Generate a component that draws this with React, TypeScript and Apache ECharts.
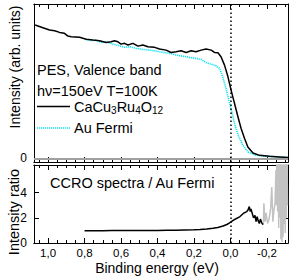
import { useEffect, useRef } from 'react';
import * as echarts from 'echarts';

const FONT = '"Liberation Sans", Arial, Helvetica, sans-serif';

const X_MIN = -0.315;
const X_MAX = 1.077;
const majorTicks = [1.0, 0.8, 0.6, 0.4, 0.2, 0.0, -0.2];
const minorTicks = [1.05, 0.95, 0.9, 0.85, 0.75, 0.7, 0.65, 0.55, 0.5, 0.45, 0.35, 0.3, 0.25, 0.15, 0.1, 0.05, -0.05, -0.1, -0.15, -0.25, -0.3];
const ratioTicks = [0, 2, 4];

// CaCu3Ru4O12 valence band spectrum
const ccroE = [1.071, 1.028, 0.992, 0.964, 0.937, 0.91, 0.891, 0.873, 0.827, 0.791, 0.754, 0.718, 0.682, 0.654, 0.636, 0.617, 0.6, 0.581, 0.562, 0.535, 0.507, 0.48, 0.453, 0.416, 0.389, 0.353, 0.326, 0.298, 0.271, 0.243, 0.216, 0.189, 0.161, 0.134, 0.106, 0.088, 0.069, 0.052, 0.033, 0.014, -0.003, -0.022, -0.041, -0.058, -0.077, -0.095, -0.123, -0.159, -0.214, -0.268, -0.315];
const ccroI = [0.864, 0.846, 0.831, 0.827, 0.816, 0.81, 0.792, 0.788, 0.784, 0.771, 0.766, 0.762, 0.751, 0.755, 0.762, 0.755, 0.74, 0.745, 0.734, 0.745, 0.727, 0.734, 0.723, 0.719, 0.708, 0.701, 0.686, 0.69, 0.697, 0.686, 0.697, 0.69, 0.701, 0.708, 0.701, 0.686, 0.684, 0.658, 0.604, 0.528, 0.442, 0.355, 0.268, 0.193, 0.128, 0.073, 0.034, 0.019, 0.013, 0.009, 0.005];

// Au Fermi edge
const auE = [0.795, 0.764, 0.737, 0.709, 0.682, 0.644, 0.608, 0.581, 0.553, 0.517, 0.48, 0.444, 0.408, 0.37, 0.334, 0.298, 0.261, 0.225, 0.189, 0.161, 0.134, 0.106, 0.079, 0.06, 0.046, 0.027, 0.009, -0.009, -0.027, -0.046, -0.068, -0.095, -0.14, -0.195, -0.25, -0.315];
const auI = [0.771, 0.762, 0.766, 0.751, 0.755, 0.74, 0.729, 0.719, 0.723, 0.712, 0.706, 0.701, 0.695, 0.686, 0.68, 0.669, 0.662, 0.654, 0.647, 0.641, 0.621, 0.61, 0.599, 0.582, 0.539, 0.463, 0.377, 0.29, 0.203, 0.138, 0.084, 0.041, 0.019, 0.013, 0.009, 0.005];

// Ratio CCRO / Au
const ratioE = [0.8, 0.75, 0.7, 0.65, 0.6, 0.55, 0.5, 0.45, 0.4, 0.35, 0.3, 0.25, 0.2, 0.167, 0.13, 0.096, 0.07, 0.041, 0.02, 0.003, -0.02, -0.052, -0.07, -0.089, -0.095, -0.103, -0.108, -0.112, -0.12, -0.126, -0.134, -0.14, -0.146, -0.151, -0.158, -0.164, -0.171, -0.176, -0.18];
const ratioV = [0.97, 0.98, 0.98, 0.99, 0.99, 1.0, 1.0, 1.0, 1.0, 1.01, 1.02, 1.04, 1.06, 1.08, 1.12, 1.17, 1.24, 1.35, 1.47, 1.62, 1.85, 2.1, 2.35, 2.5, 2.6, 2.9, 2.5, 2.7, 2.3, 2.0, 2.2, 1.7, 2.1, 1.8, 1.55, 1.9, 1.6, 1.5, 1.5];

// Noisy ratio beyond the Fermi edge (grey)
const noiseE = [-0.18, -0.183, -0.186, -0.189, -0.195, -0.203, -0.212, -0.22, -0.226, -0.232, -0.238, -0.244, -0.249, -0.252, -0.255, -0.258, -0.261, -0.264, -0.267, -0.27, -0.273, -0.276, -0.279, -0.282, -0.285, -0.288, -0.291, -0.294, -0.297, -0.3, -0.303, -0.306, -0.309, -0.312];
const noiseV = [1.5, 3.15, 2.4, 1.7, 2.4, 1.55, 1.95, 2.8, 4.45, 1.7, 2.6, 3.15, 5.8, 3.0, 9, 2.5, 9, 1.2, 9, 2.0, 9, 0.3, 9, 0.1, 9, 0.5, 9, 1.5, 9, 0.8, 9, 2.0, 9, 3.0];

const zip = (a: number[], b: number[]) => a.map((v, i) => [v, b[i]]);
const fmt = (v: number) => v.toFixed(1).replace('.', ',');

const CYAN = '#12e2f2';

function xAx(gridIndex: number, position: string, ticks: number[], len: number, labels: boolean) {
  return {
    type: 'value', gridIndex, position, min: X_MIN, max: X_MAX, inverse: true,
    axisLine: { show: true, onZero: false, lineStyle: { color: '#000', width: 1 } },
    axisTick: { show: true, inside: true, length: len, customValues: ticks, lineStyle: { color: '#000', width: 1 } },
    axisLabel: labels
      ? { show: true, customValues: majorTicks, formatter: (v: number) => fmt(v), fontSize: 11.5, color: '#000', fontFamily: FONT, margin: 4 }
      : { show: false },
    splitLine: { show: false },
  };
}

function yAx(gridIndex: number, position: string, min: number, max: number, ticks: number[], labels: boolean) {
  return {
    type: 'value', gridIndex, position, min, max,
    axisLine: { show: true, onZero: false, lineStyle: { color: '#000', width: 1 } },
    axisTick: { show: true, inside: true, length: 5, customValues: ticks, lineStyle: { color: '#000', width: 1 } },
    axisLabel: labels
      ? { show: true, customValues: ticks, formatter: (v: number) => String(v), fontSize: 12, color: '#000', fontFamily: FONT, margin: 7 }
      : { show: false },
    splitLine: { show: false },
  };
}

export default function App() {
  const ref = useRef<HTMLDivElement>(null);
  useEffect(() => {
    if (!ref.current) return;
    const chart = echarts.init(ref.current, null, { renderer: 'svg' });
    const dotted = { color: '#000', width: 1.5, type: [1.5, 2.5] };
    chart.setOption({
      animation: false,
      backgroundColor: '#fff',
      grid: [
        { left: 34, right: 3, top: 4, height: 158 },
        { left: 34, right: 3, top: 165, height: 78 },
      ],
      xAxis: [
        xAx(0, 'bottom', majorTicks, 5, false),
        xAx(0, 'bottom', minorTicks, 3, false),
        xAx(0, 'top', majorTicks, 5, false),
        xAx(0, 'top', minorTicks, 3, false),
        xAx(1, 'bottom', majorTicks, 5, true),
        xAx(1, 'bottom', minorTicks, 3, false),
        xAx(1, 'top', majorTicks, 5, false),
        xAx(1, 'top', minorTicks, 3, false),
      ],
      yAxis: [
        yAx(0, 'left', -0.024, 1, [0], true),
        yAx(0, 'right', -0.024, 1, [0], false),
        yAx(1, 'left', 0, 6.2, ratioTicks, true),
        yAx(1, 'right', 0, 6.2, ratioTicks, false),
      ],
      series: [
        {
          type: 'line', xAxisIndex: 0, yAxisIndex: 0, data: zip(auE, auI), showSymbol: false,
          lineStyle: { color: CYAN, width: 1.6, type: [1.2, 0.8] }, z: 3,
          markLine: {
            silent: true, symbol: 'none', label: { show: false },
            data: [
              { yAxis: 0, lineStyle: { color: '#a0a0a0', width: 2, type: 'solid' } },
              { xAxis: 0, lineStyle: dotted },
            ],
          },
        },
        {
          type: 'line', xAxisIndex: 0, yAxisIndex: 0, data: zip(ccroE, ccroI), showSymbol: false,
          lineStyle: { color: '#000', width: 1.5 }, z: 4,
        },
        {
          type: 'line', xAxisIndex: 4, yAxisIndex: 2, data: zip(noiseE, noiseV), showSymbol: false,
          lineStyle: { color: '#c2c2c2', width: 1.5 }, z: 3,
        },
        {
          type: 'line', xAxisIndex: 4, yAxisIndex: 2, data: zip(ratioE, ratioV), showSymbol: false,
          lineStyle: { color: '#000', width: 1.5 }, z: 4,
          markLine: {
            silent: true, symbol: 'none', label: { show: false },
            data: [{ xAxis: 0, lineStyle: dotted }],
          },
        },
      ],
      graphic: [
        { type: 'text', x: 15, y: 67, rotation: Math.PI / 2, style: { text: 'Intensity (arb. units)', fontSize: 14, fontFamily: FONT, fill: '#000', align: 'center', verticalAlign: 'middle' } },
        { type: 'text', x: 14, y: 212, rotation: Math.PI / 2, style: { text: 'Intensity ratio', fontSize: 14.5, fontFamily: FONT, fill: '#000', align: 'center', verticalAlign: 'middle' } },
        { type: 'text', x: 157, y: 268, style: { text: 'Binding energy (eV)', fontSize: 14, fontFamily: FONT, fill: '#000', align: 'center', verticalAlign: 'middle' } },
        { type: 'text', x: 37, y: 70, style: { text: 'PES, Valence band', fontSize: 14.5, fontFamily: FONT, fill: '#000', align: 'left', verticalAlign: 'middle' } },
        { type: 'text', x: 37, y: 90.5, style: { text: 'h\u03bd=150eV T=100K', fontSize: 14.5, fontFamily: FONT, fill: '#000', align: 'left', verticalAlign: 'middle' } },
        { type: 'line', shape: { x1: 37, y1: 106.5, x2: 70, y2: 106.5 }, style: { stroke: '#000', lineWidth: 1.5 } },
        {
          type: 'text', x: 74, y: 106.5,
          style: {
            text: '{n|CaCu}{s|3}{n|Ru}{s|4}{n|O}{s|12}',
            fontFamily: FONT, fill: '#000', align: 'left', verticalAlign: 'middle',
            rich: {
              n: { fontSize: 14.5, fontFamily: FONT, fill: '#000' },
              s: { fontSize: 10, fontFamily: FONT, fill: '#000', padding: [8, 0, 0, 0] },
            },
          },
        },
        { type: 'line', shape: { x1: 37, y1: 128, x2: 70, y2: 128 }, style: { stroke: CYAN, lineWidth: 1.6, lineDash: [1.2, 0.8] } },
        { type: 'text', x: 74, y: 128, style: { text: 'Au Fermi', fontSize: 14.5, fontFamily: FONT, fill: '#000', align: 'left', verticalAlign: 'middle' } },
        { type: 'text', x: 50, y: 183, style: { text: 'CCRO spectra / Au Fermi', fontSize: 14.5, fontFamily: FONT, fill: '#000', align: 'left', verticalAlign: 'middle' } },
      ],
    });
    return () => chart.dispose();
  }, []);
  return <div ref={ref} style={{ width: 291, height: 280, position: 'absolute', left: 0, top: 0 }} />;
}
